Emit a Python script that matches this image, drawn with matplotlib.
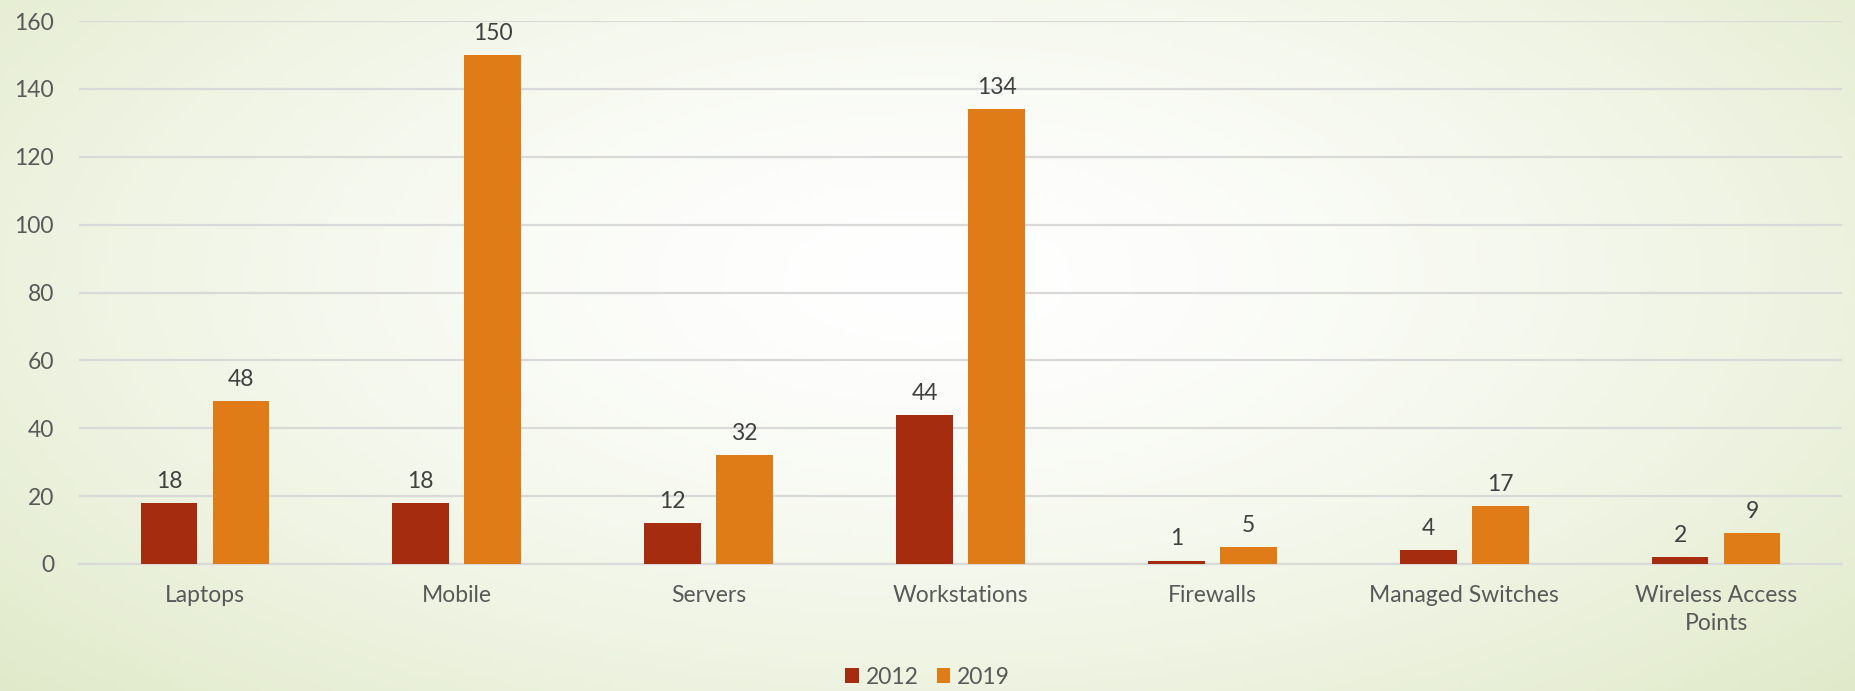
import matplotlib.pyplot as plt
import numpy as np

# data
categories = ["Laptops", "Mobile", "Servers", "Workstations", "Firewalls",
              "Managed Switches", "Wireless Access\nPoints"]
series_2012 = [18, 18, 12, 44, 1, 4, 2]
series_2019 = [48, 150, 32, 134, 5, 17, 9]
years = ["2012", "2019"]

plt.rcParams['font.family'] = ['Lato', 'DejaVu Sans']
text_col = "#595959"

fig = plt.figure(figsize=(18.55, 6.91), dpi=100)

# radial gradient background (white centre, pale green edges)
bg = fig.add_axes([0, 0, 1, 1], zorder=-10)
gx, gy = np.meshgrid(np.linspace(0, 1, 400), np.linspace(0, 1, 160))
d = np.sqrt(((gx - 0.5) / 0.75) ** 2 + ((gy - 0.6) / 0.95) ** 2)
d = np.clip(d, 0, 1)
c_in = np.array([1.0, 1.0, 1.0])
c_out = np.array([0xDC, 0xE7, 0xC2]) / 255
img = c_in[None, None, :] * (1 - d[..., None] ** 1.5) + c_out[None, None, :] * d[..., None] ** 1.5
bg.imshow(img, origin="lower", aspect="auto", extent=[0, 1, 0, 1])
bg.axis("off")

ax = fig.add_axes([79 / 1855, 1 - 564 / 691, (1842 - 79) / 1855, (564 - 21) / 691])
ax.patch.set_alpha(0)

x = np.arange(len(categories))
w = 0.225
off = 0.143
b1 = ax.bar(x - off, series_2012, w, color="#A52C0E", label=years[0], zorder=3)
b2 = ax.bar(x + off, series_2019, w, color="#DF7C18", label=years[1], zorder=3)

for bars in (b1, b2):
    for r in bars:
        ax.annotate(str(int(r.get_height())), (r.get_x() + r.get_width() / 2, r.get_height()),
                    xytext=(0, 8), textcoords="offset points", ha="center", va="bottom",
                    fontsize=16.5, color="#404040")

ax.set_xlim(-0.5, len(categories) - 0.5)
ax.set_ylim(0, 160)
ax.set_yticks(np.arange(0, 161, 20))
ax.yaxis.grid(True, color="#D9D9D9", linewidth=1.6, zorder=0)
ax.set_axisbelow(True)
for s in ["top", "right", "left"]:
    ax.spines[s].set_visible(False)
ax.spines["bottom"].set_color("#D9D9D9")
ax.spines["bottom"].set_linewidth(1.6)
ax.tick_params(axis="both", length=0, labelsize=16.5, labelcolor=text_col)
ax.tick_params(axis="y", pad=18)
ax.tick_params(axis="x", pad=15)
ax.set_xticks(x)
ax.set_xticklabels(categories, linespacing=1.4)

fig.legend(loc="lower center", ncol=2, frameon=False, fontsize=16.5, labelcolor=text_col,
           handlelength=0.6, handleheight=0.6, handletextpad=0.3, columnspacing=0.8,
           bbox_to_anchor=(0.5, -0.025))

fig.savefig("out.png", dpi=100)
